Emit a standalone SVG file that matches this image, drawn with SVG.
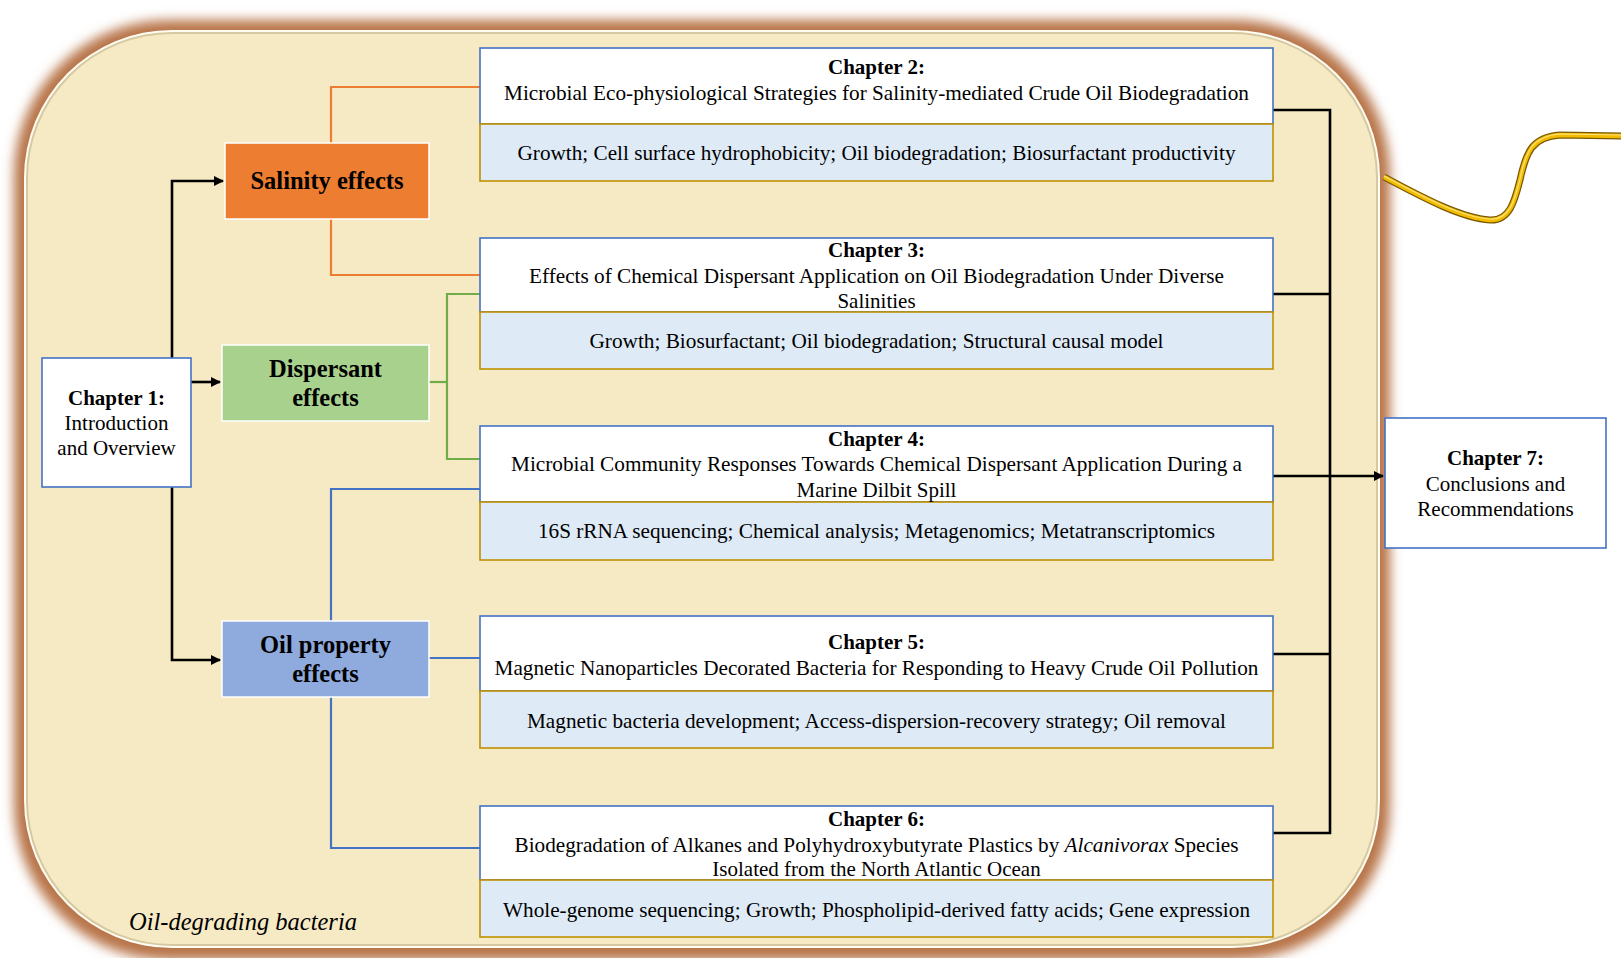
<svg xmlns="http://www.w3.org/2000/svg" width="1621" height="958" viewBox="0 0 1621 958">
<defs>
<style>
.t{font-family:"Liberation Serif","Times New Roman",serif;font-size:21px;fill:#000;text-anchor:middle}
.b{font-weight:bold}
.eff{font-family:"Liberation Serif","Times New Roman",serif;font-size:24.5px;font-weight:bold;fill:#000;text-anchor:middle}
.hd{fill:#fff;stroke:#4472C4;stroke-width:1.6}
.bd{fill:#DEEBF7;stroke:#BF9000;stroke-width:1.6}
.blk{fill:none;stroke:#000;stroke-width:2.6}
.or{fill:none;stroke:#ED7D31;stroke-width:2.2}
.gr{fill:none;stroke:#70AD47;stroke-width:2.2}
.bl{fill:none;stroke:#4472C4;stroke-width:2.2}
</style>
<marker id="arr" viewBox="0 0 10 10" refX="9" refY="5" markerWidth="4" markerHeight="4" orient="auto" markerUnits="strokeWidth">
<path d="M0,0 L10,5 L0,10 z" fill="#000"/>
</marker>
<filter id="glow" x="-5%" y="-5%" width="110%" height="110%">
<feGaussianBlur stdDeviation="6"/>
</filter>
</defs>

<g id="container">
<rect x="14" y="20" width="1376" height="940" rx="155" fill="#B8754A" filter="url(#glow)"/>
<rect x="24" y="30" width="1356" height="918" rx="148" fill="#FFFDF2"/>
<rect x="27" y="33" width="1350" height="912" rx="145" fill="#F6EAC5" stroke="#D6C9A2" stroke-width="2"/>
<text x="129" y="930" style="font-family:'Liberation Serif','Times New Roman',serif;font-size:24.5px;font-style:italic;fill:#000">Oil-degrading bacteria</text>
</g>

<g id="cable">
<path d="M1384,177 C1420,196 1460,218 1490,220 C1510,221 1515,200 1520,180 C1526,152 1532,137 1560,135 L1621,136" fill="none" stroke="#7A5800" stroke-width="7"/>
<path d="M1384,177 C1420,196 1460,218 1490,220 C1510,221 1515,200 1520,180 C1526,152 1532,137 1560,135 L1621,136" fill="none" stroke="#F2BC00" stroke-width="4.5"/>
<path d="M1384,176 C1420,195 1460,217 1490,219 C1510,220 1515,199 1520,179 C1526,151 1532,136 1560,134 L1621,135" fill="none" stroke="#FFE27A" stroke-width="1.2"/>
</g>

<g id="connectors">
<path class="blk" d="M172,358 V181 H223" marker-end="url(#arr)"/>
<path class="blk" d="M191,382 H220" marker-end="url(#arr)"/>
<path class="blk" d="M172,487 V660 H220" marker-end="url(#arr)"/>
<path class="or" d="M331,143 V87 H480"/>
<path class="or" d="M331,219 V275 H480"/>
<path class="gr" d="M429,382 H447"/>
<path class="gr" d="M480,294 H447 V459 H480"/>
<path class="bl" d="M331,621 V489 H480"/>
<path class="bl" d="M429,658 H480"/>
<path class="bl" d="M331,697 V848 H480"/>
<path class="blk" d="M1273,110 H1330 V833 H1273"/>
<path class="blk" d="M1273,294 H1330"/>
<path class="blk" d="M1273,654 H1330"/>
<path class="blk" d="M1273,476 H1383" marker-end="url(#arr)"/>
</g>

<g id="ch1">
<rect x="42" y="358" width="149" height="129" class="hd" stroke-width="2"/>
<text class="t b" x="116.5" y="405">Chapter 1:</text>
<text class="t" x="116.5" y="430">Introduction</text>
<text class="t" x="116.5" y="455">and Overview</text>
</g>

<g id="salinity">
<rect x="225" y="143" width="204" height="76" fill="#ED7D31" stroke="#fff" stroke-width="1.5"/>
<text class="eff" x="327" y="189">Salinity effects</text>
</g>

<g id="dispersant">
<rect x="222" y="345" width="207" height="76" fill="#A9D18E" stroke="#fff" stroke-width="1.5"/>
<text class="eff" x="325.5" y="377">Dispersant</text>
<text class="eff" x="325.5" y="406">effects</text>
</g>

<g id="oilproperty">
<rect x="222" y="621" width="207" height="76" fill="#8FAADC" stroke="#fff" stroke-width="1.5"/>
<text class="eff" x="325.5" y="653">Oil property</text>
<text class="eff" x="325.5" y="682">effects</text>
</g>

<g id="ch2">
<rect x="480" y="48" width="793" height="76" class="hd"/>
<rect x="480" y="124" width="793" height="57" class="bd"/>
<text class="t b" x="876.5" y="74">Chapter 2:</text>
<text class="t" x="876.5" y="100" textLength="745" lengthAdjust="spacingAndGlyphs">Microbial Eco-physiological Strategies for Salinity-mediated Crude Oil Biodegradation</text>
<text class="t" x="876.5" y="160" textLength="718" lengthAdjust="spacingAndGlyphs">Growth; Cell surface hydrophobicity; Oil biodegradation; Biosurfactant productivity</text>
</g>

<g id="ch3">
<rect x="480" y="238" width="793" height="74" class="hd"/>
<rect x="480" y="312" width="793" height="57" class="bd"/>
<text class="t b" x="876.5" y="257">Chapter 3:</text>
<text class="t" x="876.5" y="283" textLength="695" lengthAdjust="spacingAndGlyphs">Effects of Chemical Dispersant Application on Oil Biodegradation Under Diverse</text>
<text class="t" x="876.5" y="308">Salinities</text>
<text class="t" x="876.5" y="348" textLength="574" lengthAdjust="spacingAndGlyphs">Growth; Biosurfactant; Oil biodegradation; Structural causal model</text>
</g>

<g id="ch4">
<rect x="480" y="426" width="793" height="76" class="hd"/>
<rect x="480" y="502" width="793" height="58" class="bd"/>
<text class="t b" x="876.5" y="446">Chapter 4:</text>
<text class="t" x="876.5" y="471" textLength="731" lengthAdjust="spacingAndGlyphs">Microbial Community Responses Towards Chemical Dispersant Application During a</text>
<text class="t" x="876.5" y="497">Marine Dilbit Spill</text>
<text class="t" x="876.5" y="538" textLength="677" lengthAdjust="spacingAndGlyphs">16S rRNA sequencing; Chemical analysis; Metagenomics; Metatranscriptomics</text>
</g>

<g id="ch5">
<rect x="480" y="616" width="793" height="75" class="hd"/>
<rect x="480" y="691" width="793" height="57" class="bd"/>
<text class="t b" x="876.5" y="649">Chapter 5:</text>
<text class="t" x="876.5" y="675" textLength="764" lengthAdjust="spacingAndGlyphs">Magnetic Nanoparticles Decorated Bacteria for Responding to Heavy Crude Oil Pollution</text>
<text class="t" x="876.5" y="728" textLength="699" lengthAdjust="spacingAndGlyphs">Magnetic bacteria development; Access-dispersion-recovery strategy; Oil removal</text>
</g>

<g id="ch6">
<rect x="480" y="806" width="793" height="74" class="hd"/>
<rect x="480" y="880" width="793" height="57" class="bd"/>
<text class="t b" x="876.5" y="826">Chapter 6:</text>
<text class="t" x="876.5" y="852" textLength="724" lengthAdjust="spacingAndGlyphs">Biodegradation of Alkanes and Polyhydroxybutyrate Plastics by <tspan font-style="italic">Alcanivorax</tspan> Species</text>
<text class="t" x="876.5" y="876">Isolated from the North Atlantic Ocean</text>
<text class="t" x="876.5" y="917" textLength="747" lengthAdjust="spacingAndGlyphs">Whole-genome sequencing; Growth; Phospholipid-derived fatty acids; Gene expression</text>
</g>

<g id="ch7">
<rect x="1385" y="418" width="221" height="130" class="hd" stroke-width="2"/>
<text class="t b" x="1495.5" y="465">Chapter 7:</text>
<text class="t" x="1495.5" y="491">Conclusions and</text>
<text class="t" x="1495.5" y="516">Recommendations</text>
</g>
</svg>
